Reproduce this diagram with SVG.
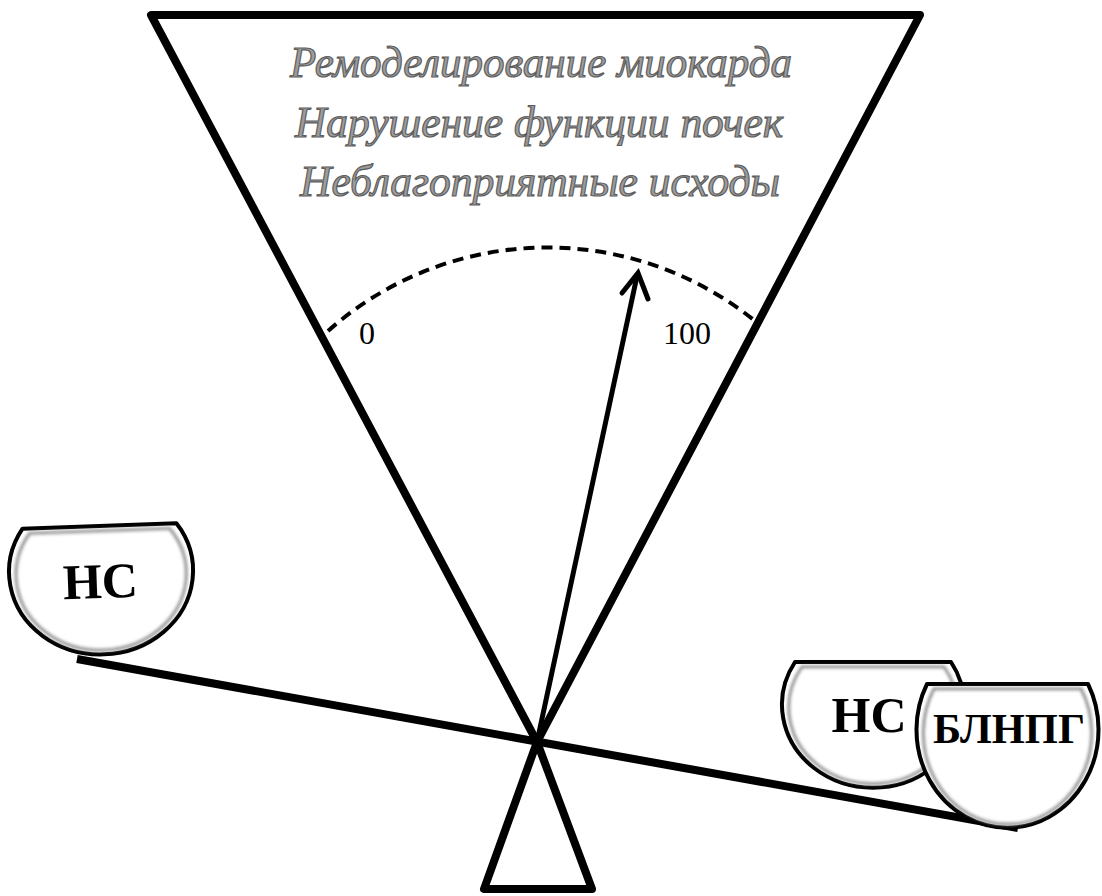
<svg xmlns="http://www.w3.org/2000/svg" width="1102" height="896" viewBox="0 0 1102 896">
<style>
.ln{fill:none;stroke:#000;stroke-width:8;stroke-linecap:round;stroke-linejoin:round}
.ttl{font-family:"Liberation Serif",serif;font-style:italic;font-size:44px;fill:#9c9c9c;stroke:#5e5e5e;stroke-width:1.2;text-anchor:middle}
.num{font-family:"Liberation Serif",serif;font-size:32px;fill:#000}
.bl{font-family:"Liberation Serif",serif;font-weight:bold;fill:#000;text-anchor:middle}
.bowl-o{fill:#fff;stroke:#000;stroke-width:4;stroke-linejoin:round}
.bowl-i{fill:#fff;stroke:#8a8a8a;stroke-width:3;filter:url(#soft)}
</style>
<defs>
<filter id="soft" x="-10%" y="-10%" width="120%" height="120%"><feGaussianBlur stdDeviation="1.6"/></filter>
</defs>
<rect width="1102" height="896" fill="#fff"/>

<g id="connectors">
<path id="v-shape" class="ln" d="M151,15 L920,15 L537,742 Z"/>
<path id="scale-arc" d="M328,331 A330,330 0 0 1 755,321" fill="none" stroke="#000" stroke-width="4" stroke-dasharray="11,7"/>
<line id="pointer" x1="537" y1="742" x2="637" y2="276" stroke="#000" stroke-width="5"/>
<path id="pointer-head" d="M622,293 L638,273 L648,299" fill="none" stroke="#000" stroke-width="5" stroke-linecap="round" stroke-linejoin="miter"/>
<line id="beam" x1="77" y1="659" x2="1018" y2="828" stroke="#000" stroke-width="8"/>
<path id="stand" class="ln" d="M537,742 L484,889 L592,889 Z"/>
</g>

<g id="title">
<text class="ttl" x="541" y="77" textLength="502" lengthAdjust="spacingAndGlyphs">Ремоделирование миокарда</text>
<text class="ttl" x="539" y="137" textLength="488" lengthAdjust="spacingAndGlyphs">Нарушение функции почек</text>
<text class="ttl" x="540" y="196" textLength="480" lengthAdjust="spacingAndGlyphs">Неблагоприятные исходы</text>
</g>

<g id="labels">
<text class="num" x="359" y="344">0</text>
<text class="num" x="663" y="344">100</text>
</g>

<g id="bowl-left" transform="rotate(-2 101 570)">
<path class="bowl-o" d="M24,526 L178,526 A92,83 0 1 1 24,526 Z"/>
<path class="bowl-i" d="M31,531 L171,531 A85,76 0 1 1 31,531 Z"/>
<text class="bl" x="100" y="598" font-size="50">НС</text>
</g>

<g id="bowl-right-1">
<path class="bowl-o" d="M795,662 L951,662 A91,83 0 1 1 795,662 Z"/>
<path class="bowl-i" d="M802,667 L944,667 A84,76 0 1 1 802,667 Z"/>
<text class="bl" x="869" y="732" font-size="50">НС</text>
</g>

<g id="bowl-right-2">
<path class="bowl-o" d="M927,684 L1088,684 A91,98 0 1 1 927,684 Z"/>
<path class="bowl-i" d="M934,689 L1081,689 A84,91 0 1 1 934,689 Z"/>
<text class="bl" x="1009" y="743" font-size="42" textLength="152" lengthAdjust="spacingAndGlyphs">БЛНПГ</text>
</g>
</svg>
